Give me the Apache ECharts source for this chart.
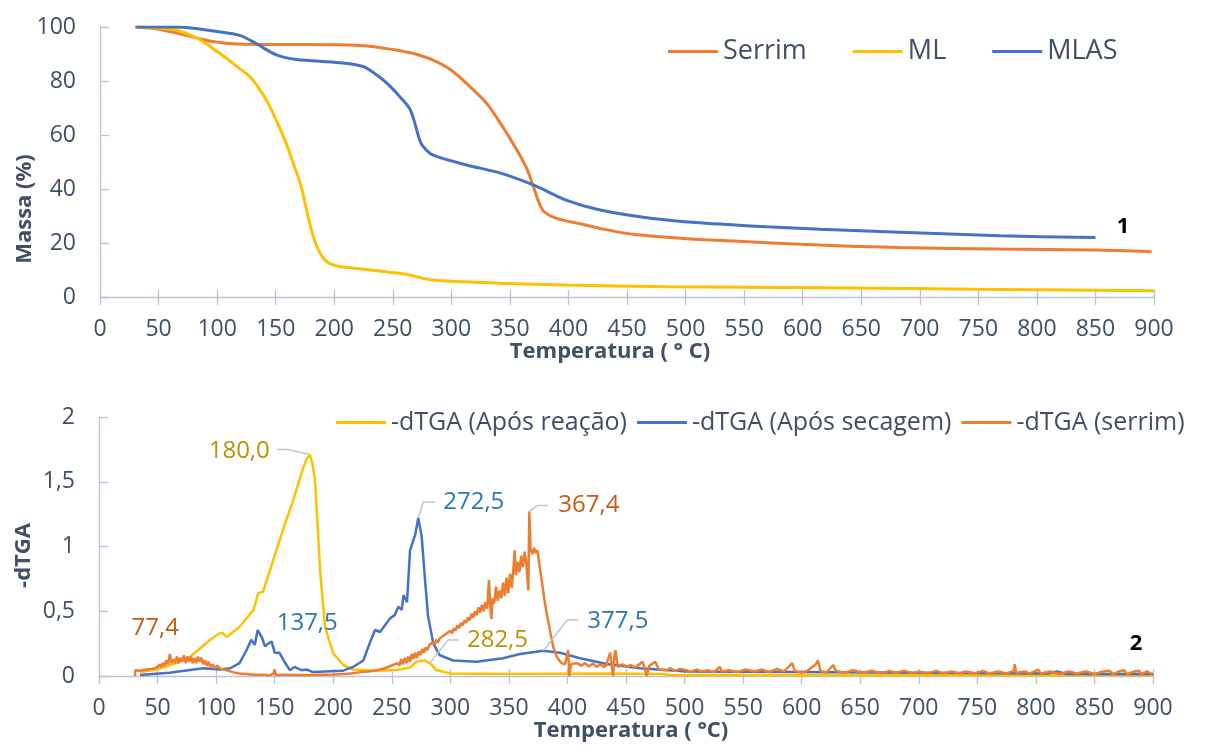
<!DOCTYPE html>
<html>
<head>
<meta charset="utf-8">
<title>TGA / dTGA</title>
<script src="https://cdn.jsdelivr.net/npm/echarts@6/dist/echarts.min.js"></script>
<style>
  html, body { margin: 0; padding: 0; background: #fff; }
  #main { width: 1211px; height: 749px; }
</style>
</head>
<body>
<div id="main"></div>
<script>
// ---- dados: curvas TGA (massa %) ----
var serrimT = [30, 50, 70, 90, 100, 110, 130, 160, 200, 230, 256, 270, 284, 300, 313, 330, 342, 356, 365, 370, 378, 390, 410, 427, 455, 498, 541, 598, 683, 768, 850, 898];
var serrimM = [100, 99.2, 97.3, 95.2, 94.4, 93.9, 93.6, 93.5, 93.4, 92.9, 91.2, 89.9, 87.8, 84, 79.1, 71.8, 64.3, 54.4, 47, 40.9, 32.2, 29.1, 27.1, 25.4, 23.2, 21.7, 20.7, 19.5, 18.3, 17.8, 17.4, 16.8];

var mlT = [31, 50, 65, 80, 88, 98, 108, 118, 128, 137, 145, 152, 159, 165, 171, 175, 179, 184, 188, 193, 199, 209, 219, 235, 248, 256, 267, 276, 284, 300, 342, 398, 484, 615, 768, 900];
var mlM = [100, 99.6, 98.9, 96.5, 94.6, 91.5, 88.4, 85, 81.6, 76.5, 70.5, 64, 56.9, 49.5, 42.1, 35, 27.3, 20, 16.2, 13.3, 11.9, 11, 10.6, 9.8, 9.1, 8.8, 7.9, 6.9, 6.3, 5.8, 5.1, 4.4, 3.8, 3.4, 2.8, 2.3];

var mlasT = [31, 65, 100, 120, 134, 151, 168, 205, 225, 240, 248, 256, 265, 273, 276, 284, 313, 342, 370, 398, 427, 470, 512, 569, 615, 683, 768, 850];
var mlasM = [100, 100, 98.3, 96.8, 93.7, 89.6, 88, 86.8, 85.3, 81, 77.9, 74.2, 69.3, 58.1, 55.7, 52.6, 48.9, 45.9, 41.5, 35.9, 32.2, 29.2, 27.5, 26, 25.1, 24, 22.7, 22];

// ---- dados: curvas -dTGA ----
var reacaoT = [35, 49, 66, 78, 86, 95, 103, 106, 109, 120, 132, 136, 140, 149, 159, 166, 173, 177, 180, 182, 184.5, 189, 193, 200, 208.6, 217, 237, 254, 265.6, 271, 278, 282.6, 288, 300, 351, 430, 480, 490, 600, 750, 900];
var reacaoD = [0.03, 0.05, 0.10, 0.15, 0.21, 0.28, 0.33, 0.33, 0.30, 0.38, 0.51, 0.64, 0.65, 0.90, 1.18, 1.36, 1.57, 1.67, 1.71, 1.65, 1.51, 0.79, 0.38, 0.175, 0.085, 0.05, 0.04, 0.046, 0.065, 0.11, 0.12, 0.10, 0.046, 0.02, 0.015, 0.02, 0.015, 0.005, 0.008, 0.006, 0.005];

var secagemT = [35, 60, 89, 103, 112, 120, 126, 130, 133, 135.5, 139, 141.7, 144.5, 147.5, 150, 154, 159, 163, 167, 173, 177, 183, 208, 217, 225.7, 231, 235.7, 240, 248.5, 252.5, 255.6, 258.5, 260, 263, 265.6, 268.4, 270, 272.6, 275.5, 278.4, 281, 285.5, 291, 302.5, 322.5, 345, 359.5, 379.4, 393.6, 410.7, 433.5, 462, 502, 600, 700, 810, 818, 826, 900];
var secagemD = [0.008, 0.025, 0.06, 0.05, 0.06, 0.10, 0.20, 0.28, 0.24, 0.355, 0.30, 0.23, 0.25, 0.265, 0.18, 0.18, 0.10, 0.045, 0.07, 0.045, 0.05, 0.03, 0.04, 0.07, 0.12, 0.25, 0.355, 0.34, 0.445, 0.47, 0.535, 0.51, 0.625, 0.57, 0.97, 1.05, 1.09, 1.22, 1.08, 0.74, 0.46, 0.25, 0.16, 0.12, 0.11, 0.137, 0.17, 0.195, 0.18, 0.137, 0.093, 0.06, 0.035, 0.03, 0.025, 0.02, 0.035, 0.015, 0.015];

// serrim (sinal ruidoso), lido ponto a ponto da figura
var serrimdT = [
    30.7, 31, 35, 40, 45, 48, 50, 51.5, 53, 54.5, 56, 57.5, 59, 60.5, 62, 63.5, 65, 66.5, 68, 69.5, 71, 72.5, 74, 75.5, 77, 78.5, 80, 81.5, 83, 84.5, 86, 87.5, 89, 90.5, 92, 93.5, 95, 97, 99, 101, 104,
    109, 114, 120, 126, 132, 140, 146, 149, 150, 151, 155, 160, 170, 180, 190, 200, 208.6, 215, 223, 230, 237, 244, 251,
    255, 256.5, 258, 259.5, 261, 262.5, 264, 265.5, 267, 268.5, 270, 271.5, 273, 274.5, 276, 277.5, 279, 280.5, 282, 283.5,
    285, 286.5, 288, 289.5, 291, 292.5, 294, 295.5, 297, 298.5, 300, 301.5, 303, 304.5, 306, 307.5, 309, 310.5, 312, 313.5,
    315, 316.5, 318, 319.5, 321, 322.5, 324, 325.5, 327, 328.5, 330, 331.5, 333, 334, 335, 336, 337.5, 339, 340.5, 342,
    343.5, 345, 346.5, 348, 349.5, 351, 352.5, 354, 355, 356, 357.5, 359, 360.5, 362, 363.5, 365, 366.6, 367.4, 368.5, 370,
    371.5, 373, 374.5, 376,
    378, 380.8, 383, 385, 388, 390.8, 393, 395, 398, 400.6, 401.5, 403, 408, 412, 415, 418, 422, 425, 428, 431, 433, 436.5, 438, 439,
    440, 441, 443, 447, 450.6, 454, 458, 464, 466, 467.6, 470, 475, 478,
    484.7, 488, 492, 496, 501.8, 505, 510, 515, 520, 525, 530, 532, 538, 545, 552, 560, 566, 572, 579, 585,
    592, 594, 600, 605, 612, 614, 616, 621, 627, 629, 636, 644, 652, 660, 668, 675, 680, 688, 695, 700,
    708, 715, 720, 728, 735, 740, 748, 755, 760, 768, 775, 781, 782, 783, 790, 795, 802, 804, 812, 820,
    828, 835, 843, 850, 857, 863, 866, 871, 875, 878, 884, 888, 890, 895, 899
];
var serrimdD = [
    0, 0.045, 0.04, 0.05, 0.055, 0.06, 0.07, 0.09, 0.07, 0.1, 0.08, 0.12, 0.09, 0.17, 0.1, 0.13, 0.1, 0.15, 0.1, 0.14, 0.11, 0.16, 0.1, 0.15, 0.11, 0.15, 0.1, 0.14, 0.1, 0.15, 0.11, 0.14, 0.09, 0.12, 0.08, 0.11, 0.07, 0.09, 0.06, 0.08, 0.055,
    0.045, 0.03, 0.02, 0.015, 0.01, 0.01, 0.005, 0.02, 0.05, 0.005, 0.01, 0.01, 0.008, 0.008, 0.01, 0.012, 0.015, 0.02, 0.03, 0.035, 0.045, 0.06, 0.085,
    0.10, 0.08, 0.13, 0.09, 0.14, 0.10, 0.15, 0.11, 0.17, 0.13, 0.18, 0.14, 0.19, 0.16, 0.21, 0.18, 0.22, 0.20, 0.24, 0.23,
    0.26, 0.24, 0.28, 0.26, 0.29, 0.28, 0.31, 0.30, 0.33, 0.32, 0.35, 0.33, 0.37, 0.35, 0.39, 0.37, 0.41, 0.39, 0.43, 0.41,
    0.45, 0.43, 0.48, 0.45, 0.50, 0.47, 0.53, 0.49, 0.55, 0.50, 0.57, 0.52, 0.74, 0.55, 0.44, 0.60, 0.56, 0.69, 0.58, 0.66,
    0.60, 0.72, 0.62, 0.76, 0.64, 0.79, 0.68, 0.84, 0.97, 0.78, 0.88, 0.80, 0.93, 0.84, 0.96, 0.86, 0.66, 1.27, 0.98, 0.94,
    0.99, 0.95, 0.97, 0.86,
    0.74, 0.56, 0.45, 0.355, 0.22, 0.15, 0.12, 0.10, 0.09, 0.2, 0.0, 0.09, 0.10, 0.08, 0.10, 0.075, 0.095, 0.07, 0.09, 0.07, 0.08, 0.18, 0.06, 0.0,
    0.15, 0.2, 0.07, 0.09, 0.07, 0.085, 0.065, 0.11, 0.06, 0.0, 0.08, 0.11, 0.05,
    0.045, 0.06, 0.04, 0.055, 0.045, 0.03, 0.05, 0.035, 0.045, 0.03, 0.07, 0.035, 0.045, 0.03, 0.05, 0.035, 0.05, 0.03, 0.055, 0.035,
    0.1, 0.04, 0.025, 0.04, 0.09, 0.12, 0.04, 0.025, 0.085, 0.04, 0.025, 0.045, 0.025, 0.04, 0.02, 0.04, 0.025, 0.04, 0.02, 0.035,
    0.02, 0.04, 0.02, 0.035, 0.02, 0.035, 0.02, 0.04, 0.02, 0.035, 0.02, 0.04, 0.09, 0.025, 0.035, 0.02, 0.05, 0.02, 0.035, 0.015,
    0.035, 0.02, 0.035, 0.015, 0.035, 0.04, 0.015, 0.035, 0.045, 0.015, 0.035, 0.04, 0.015, 0.035, 0.015
];

// picos anotados no grafico 2
var peakSeries = [0, 1, 2, 1, 2, 0, 1]; // 0 reacao, 1 secagem, 2 serrim
var peakTemp = [180, 135.5, 78.5, 272.6, 367.4, 282.6, 379.4];
var peakText = ['180,0', '137,5', '77,4', '272,5', '367,4', '282,5', '377,5'];

var fontFam = '"Open Sans", "Noto Sans", sans-serif';
var axisCol = '#B8C3D4';
var textCol = '#404F66';
var cOrange = '#ED7D31', cYellow = '#FFC000', cBlue = '#4472C4';
var labelCol = ['#BF9000', '#2E75B6', '#C55A11'];

function zip(t, v) {
    return t.map(function (x, i) { return [x, v[i]]; });
}

function xAxes(grid, title, pad) {
    return [{
        type: 'value', gridIndex: grid, min: 0, max: 900, interval: 50, position: 'bottom',
        axisLine: { show: true, onZero: false, lineStyle: { color: axisCol, width: 1.3 } },
        axisTick: { show: true, inside: false, length: 8, lineStyle: { color: axisCol, width: 1.3 } },
        axisLabel: { color: textCol, fontSize: 23, fontFamily: fontFam, margin: 21 },
        splitLine: { show: false },
        name: title, nameLocation: 'middle', nameGap: 44, nameMoveOverlap: false,
        nameTextStyle: { color: textCol, fontSize: 22, fontWeight: 'bold', fontFamily: fontFam, padding: pad }
    }, {
        // tracinhos do lado de dentro (marca cruzada)
        type: 'value', gridIndex: grid, min: 0, max: 900, interval: 50, position: 'bottom',
        axisLine: { show: false },
        axisTick: { show: true, inside: true, length: 7, lineStyle: { color: axisCol, width: 1.3 } },
        axisLabel: { show: false },
        splitLine: { show: false }
    }];
}

function yAxis(grid, max, interval, title, fmt, pad) {
    return {
        type: 'value', gridIndex: grid, min: 0, max: max, interval: interval,
        axisLine: { show: true, lineStyle: { color: axisCol, width: 1.3 } },
        axisTick: { show: true, inside: true, length: 9, lineStyle: { color: axisCol, width: 1.3 } },
        axisLabel: { color: textCol, fontSize: 23, fontFamily: fontFam, margin: 24, formatter: fmt },
        splitLine: { show: false },
        name: title, nameLocation: 'middle', nameGap: 64, nameRotate: 90, nameMoveOverlap: false,
        nameTextStyle: { color: textCol, fontSize: 22, fontWeight: 'bold', fontFamily: fontFam, padding: pad }
    };
}

function line(name, data, color, xi, yi, width, smooth) {
    return {
        name: name, type: 'line', data: data, xAxisIndex: xi, yAxisIndex: yi,
        symbol: 'none', showSymbol: false, smooth: smooth,
        lineStyle: { color: color, width: width }, itemStyle: { color: color }
    };
}

var chart = echarts.init(document.getElementById('main'));

var option = {
    animation: false,
    backgroundColor: '#fff',
    textStyle: { fontFamily: fontFam },
    grid: [
        { left: 100, right: 57, top: 27, height: 270 },
        { left: 99, right: 58, top: 417, height: 259 }
    ],
    legend: [{
        data: ['Serrim', 'ML', 'MLAS'],
        left: 663, top: 33, itemWidth: 50, itemHeight: 3, itemGap: 46, icon: 'rect',
        textStyle: { color: textCol, fontSize: 27, fontFamily: fontFam }
    }, {
        data: ['-dTGA (Após reação)', '-dTGA (Após secagem)', '-dTGA (serrim)'],
        left: 331, top: 405, itemWidth: 50, itemHeight: 3, itemGap: 10, icon: 'rect',
        textStyle: { color: textCol, fontSize: 25, fontFamily: fontFam }
    }],
    xAxis: xAxes(0, 'Temperatura ( ° C)', [0, 34, 0, 0]).concat(xAxes(1, 'Temperatura ( °C)', [0, 0, 0, 10])),
    yAxis: [
        yAxis(0, 100, 20, 'Massa (%)', null, [0, 94, 0, 0]),
        yAxis(1, 2, 0.5, '-dTGA', function (v) { return String(v).replace('.', ','); }, [0, 18, 0, 0])
    ],
    series: [
        line('Serrim', zip(serrimT, serrimM), cOrange, 0, 0, 3, 0.3),
        line('ML', zip(mlT, mlM), cYellow, 0, 0, 3, 0.3),
        line('MLAS', zip(mlasT, mlasM), cBlue, 0, 0, 3, 0.3),
        line('-dTGA (Após reação)', zip(reacaoT, reacaoD), cYellow, 2, 1, 2.5, false),
        line('-dTGA (Após secagem)', zip(secagemT, secagemD), cBlue, 2, 1, 2.5, false),
        line('-dTGA (serrim)', zip(serrimdT, serrimdD), cOrange, 2, 1, 2.5, false)
    ]
};
chart.setOption(option);

// ---- rotulos dos picos com linha de chamada ----
var bottomSets = [[reacaoT, reacaoD], [secagemT, secagemD], [serrimdT, serrimdD]];
var peakLayout = [
    { leader: [[-22, -5], [-33, -5]], tx: -40, ty: -3, align: 'right' },
    { leader: null, tx: 19, ty: -7, align: 'left' },
    { leader: null, tx: -12, ty: -28, align: 'right' },
    { leader: [[5, -16], [17, -16]], tx: 25, ty: -16, align: 'left' },
    { leader: [[8, -6], [19, -6]], tx: 29, ty: -6, align: 'left' },
    { leader: [[18, -23], [29, -23]], tx: 37, ty: -23, align: 'left' },
    { leader: [[24, -31], [35, -31]], tx: 44, ty: -30, align: 'left' }
];

function nearest(arr, t) {
    var best = 0;
    for (var i = 1; i < arr.length; i++) {
        if (Math.abs(arr[i] - t) < Math.abs(arr[best] - t)) best = i;
    }
    return best;
}

var graphics = [];
peakText.forEach(function (txt, k) {
    var s = peakSeries[k];
    var set = bottomSets[s];
    var idx = nearest(set[0], peakTemp[k]);
    var p = chart.convertToPixel({ seriesIndex: 3 + s }, [set[0][idx], set[1][idx]]);
    var lay = peakLayout[k];
    if (lay.leader) {
        graphics.push({
            type: 'polyline', silent: true, z: 50,
            shape: { points: [p, [p[0] + lay.leader[0][0], p[1] + lay.leader[0][1]], [p[0] + lay.leader[1][0], p[1] + lay.leader[1][1]]] },
            style: { stroke: '#BFC5CE', lineWidth: 1.5, fill: null }
        });
    }
    graphics.push({
        type: 'text', silent: true, z: 51,
        x: p[0] + lay.tx, y: p[1] + lay.ty,
        style: {
            text: txt, fill: labelCol[s], fontSize: 24, fontFamily: fontFam,
            align: lay.align, textAlign: lay.align, verticalAlign: 'middle', textVerticalAlign: 'middle'
        }
    });
});

// numeracao dos paineis
[['1', 1123, 227], ['2', 1136, 644]].forEach(function (n) {
    graphics.push({
        type: 'text', silent: true, x: n[1], y: n[2],
        style: { text: n[0], fill: '#000', fontSize: 22, fontWeight: 'bold', fontFamily: fontFam,
            align: 'center', textAlign: 'center', verticalAlign: 'middle', textVerticalAlign: 'middle' }
    });
});

chart.setOption({ graphic: graphics });
</script>
</body>
</html>
